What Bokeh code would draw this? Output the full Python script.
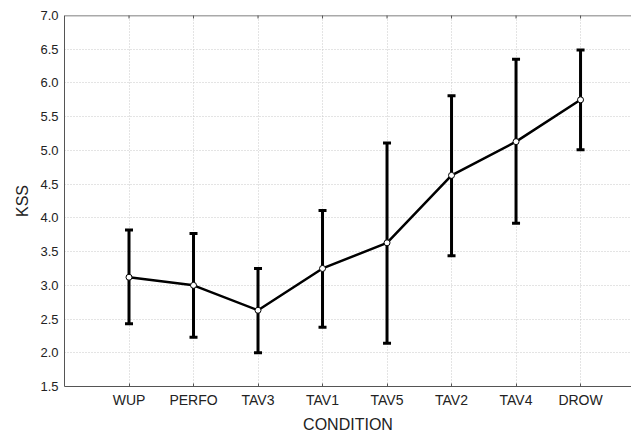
import math
from bokeh.plotting import figure
from bokeh.models import FixedTicker, Range1d, PrintfTickFormatter, ColumnDataSource, Span
from bokeh.embed import file_html
from bokeh.resources import INLINE

conditions = ["WUP", "PERFO", "TAV3", "TAV1", "TAV5", "TAV2", "TAV4", "DROW"]
kss_mean = [3.12, 3.00, 2.63, 3.25, 3.63, 4.63, 5.13, 5.75]
kss_upper = [3.82, 3.77, 3.25, 4.11, 5.11, 5.81, 6.35, 6.49]
kss_lower = [2.43, 2.23, 2.00, 2.38, 2.14, 3.44, 3.92, 5.01]
y_ticks = [1.5, 2.0, 2.5, 3.0, 3.5, 4.0, 4.5, 5.0, 5.5, 6.0, 6.5, 7.0]

xs = list(range(1, len(conditions) + 1))
y_top = y_ticks[-1]
src = ColumnDataSource(dict(x=xs, mean=kss_mean, upper=kss_upper, lower=kss_lower,
                            top=[y_top] * len(xs)))

FONT = "Liberation Sans"
TXT = "#222222"
AXC = "#555555"

p = figure(width=631, height=435, x_range=Range1d(0, 8.79), y_range=Range1d(y_ticks[0], y_top),
           output_backend="svg", toolbar_location=None,
           min_border_left=64, min_border_right=0, min_border_top=15, min_border_bottom=49,
           x_axis_label="CONDITION", y_axis_label="KSS")
p.outline_line_color = None
p.background_fill_color = "white"
p.border_fill_color = "white"

xt = FixedTicker(ticks=xs)
yt = FixedTicker(ticks=y_ticks)

xa = p.xaxis[0]
xa.ticker = xt
xa.major_label_overrides = {x: c for x, c in zip(xs, conditions)}
xa.major_tick_in = 3
xa.major_tick_out = 0
xa.minor_tick_line_color = None
xa.major_label_standoff = 5
xa.axis_label_standoff = 5
xa.major_label_text_font = FONT
xa.major_label_text_font_size = "14px"
xa.major_label_text_color = TXT
xa.axis_label_text_font = FONT
xa.axis_label_text_font_size = "16px"
xa.axis_label_text_font_style = "normal"
xa.axis_label_text_color = TXT
xa.axis_line_color = AXC
xa.major_tick_line_color = AXC

ya = p.yaxis[0]
ya.ticker = yt
ya.formatter = PrintfTickFormatter(format="%.1f")
ya.major_tick_in = 0
ya.major_tick_out = 0
ya.minor_tick_line_color = None
ya.major_label_standoff = 6
ya.axis_label_standoff = 6
ya.major_label_text_font = FONT
ya.major_label_text_font_size = "13px"
ya.major_label_text_color = TXT
ya.axis_label_text_font = FONT
ya.axis_label_text_font_size = "16px"
ya.axis_label_text_font_style = "normal"
ya.axis_label_text_color = TXT
ya.axis_line_color = AXC

# top border line with inward ticks
p.add_layout(Span(location=y_top, dimension="width", line_color=AXC, line_width=1.5))
p.scatter(x="x", y="top", source=src, marker="dash", angle=math.pi / 2, size=6,
          line_color=AXC, line_width=1)

p.xgrid.ticker = xt
p.ygrid.ticker = yt
p.grid.grid_line_color = "#c8c8c8"
p.grid.grid_line_dash = "1 2"
p.grid.grid_line_width = 1

p.segment(x0="x", y0="lower", x1="x", y1="upper", source=src, line_color="black", line_width=3)
p.scatter(x="x", y="upper", source=src, marker="dash", size=8, line_color="black", line_width=3)
p.scatter(x="x", y="lower", source=src, marker="dash", size=8, line_color="black", line_width=3)
p.line(x="x", y="mean", source=src, line_color="black", line_width=2.5)
p.scatter(x="x", y="mean", source=src, marker="circle", size=6, fill_color="white",
          line_color="black", line_width=1)

open("out.html", "w").write(file_html(p, INLINE))
